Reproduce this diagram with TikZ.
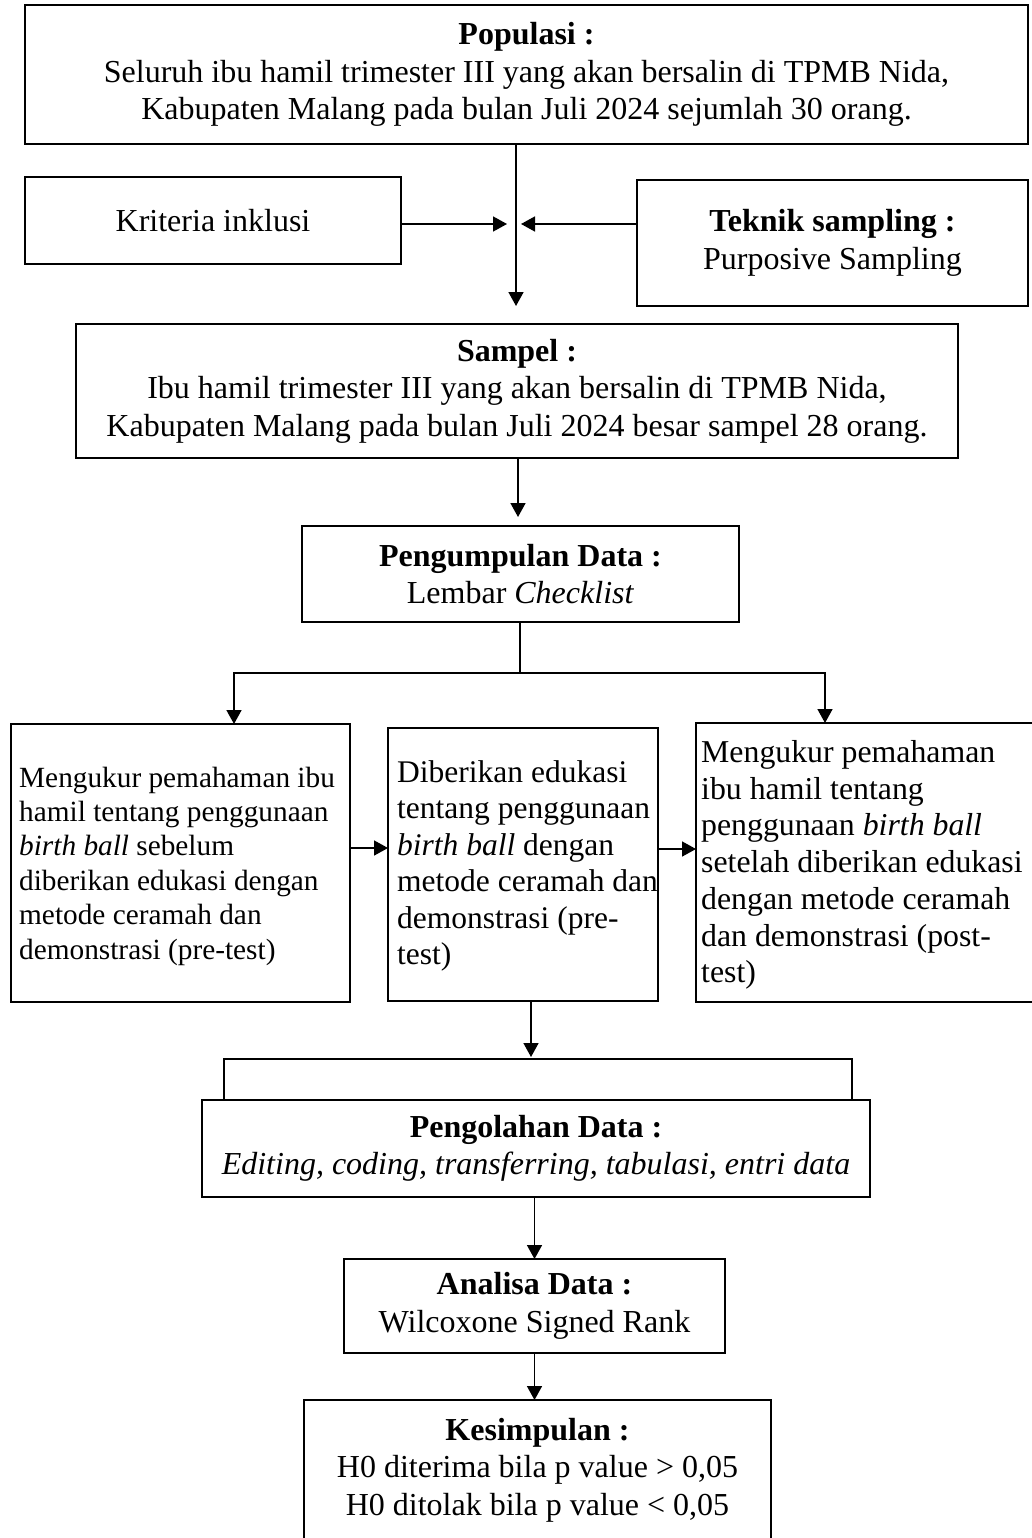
\documentclass[tikz,border=0pt]{standalone}
\usepackage{fontspec}
\setmainfont{Liberation Serif}
\usetikzlibrary{arrows.meta}
\begin{document}
\begin{tikzpicture}[x=1pt,y=-1pt,
  box/.style={draw, line width=2.6pt, rectangle, inner sep=0pt, outer sep=0pt,
    align=center, font=\fontsize{32}{37.5}\selectfont},
  conn/.style={line width=1.6pt},
  arr/.style={conn, -{Triangle[length=14pt,width=15pt]}},
  lefttxt/.style={inner sep=0pt, anchor=west, align=left}
]
\useasboundingbox (0,0) rectangle (1031,1538);

% boxes
\node[box, minimum width=1003, minimum height=139] (pop) at (526.5,74.5)
  {\textbf{Populasi :}\\Seluruh ibu hamil trimester III yang akan bersalin di TPMB Nida,\\Kabupaten Malang pada bulan Juli 2024 sejumlah 30 orang.};
\node[box, minimum width=376, minimum height=87] (krit) at (213,220.5) {Kriteria inklusi};
\node[box, minimum width=391, minimum height=126] (tek) at (832.5,243)
  {\textbf{Teknik sampling :}\\Purposive Sampling};
\node[box, minimum width=882, minimum height=134] (samp) at (517,391)
  {\textbf{Sampel :}\\Ibu hamil trimester III yang akan bersalin di TPMB Nida,\\Kabupaten Malang pada bulan Juli 2024 besar sampel 28 orang.};
\node[box, minimum width=437, minimum height=96] (peng) at (520.5,574)
  {\textbf{Pengumpulan Data :}\\Lembar \textit{Checklist}};

\node[box, minimum width=339, minimum height=278] (lbox) at (180.5,863) {};
\node[box, minimum width=270, minimum height=273] (mbox) at (523,864.5) {};
\node[box, minimum width=339, minimum height=279] (rbox) at (865.5,862.5) {};

\node[lefttxt, font=\fontsize{29.3}{34.4}\selectfont] (ltxt) at (19,866)
  {Mengukur pemahaman ibu\\hamil tentang penggunaan\\\textit{birth ball} sebelum\\diberikan edukasi dengan\\metode ceramah dan\\demonstrasi (pre-test)};
\node[lefttxt, font=\fontsize{31.5}{36.4}\selectfont] (mtxt) at (397,866)
  {Diberikan edukasi\\tentang penggunaan\\\textit{birth ball} dengan\\metode ceramah dan\\demonstrasi (pre-\\test)};
\node[lefttxt, font=\fontsize{31.8}{36.7}\selectfont] (rtxt) at (701,865)
  {Mengukur pemahaman\\ibu hamil tentang\\penggunaan \textit{birth ball}\\setelah diberikan edukasi\\dengan metode ceramah\\dan demonstrasi (post-\\test)};

\node[box, minimum width=668, minimum height=97] (olah) at (536,1148.5)
  {\textbf{Pengolahan Data :}\\\textit{Editing, coding, transferring, tabulasi, entri data}};
\node[box, minimum width=381, minimum height=94] (anal) at (534.5,1306)
  {\textbf{Analisa Data :}\\Wilcoxone Signed Rank};
\node[box, minimum width=467, minimum height=140] (kes) at (537.5,1470)
  {\textbf{Kesimpulan :}\\H0 diterima bila p value > 0,05\\H0 ditolak bila p value < 0,05};

% coordinates for free ends
\coordinate (c1) at (516,306);
\coordinate (c2) at (507,224);
\coordinate (c3) at (521,224);
\coordinate (c4) at (518,517);
\coordinate (b0) at (520,673);
\coordinate (bl) at (234,673);
\coordinate (br) at (825,673);
\coordinate (h1) at (0,848);
\coordinate (h2) at (0,849);
\coordinate (c5) at (531,1057);
\coordinate (kl) at (224,1059);
\coordinate (kr) at (852,1059);

% connectors
\draw[arr] (pop.south -| c1) -- (c1);
\draw[arr] (krit.east |- c2) -- (c2);
\draw[arr] (tek.west |- c3) -- (c3);
\draw[arr] (samp.south -| c4) -- (c4);
\draw[conn] (peng.south -| b0) -- (b0);
\draw[arr] (b0) -- (bl) -- (lbox.north -| bl);
\draw[arr] (b0) -- (br) -- (rbox.north -| br);
\draw[arr] (lbox.east |- h1) -- (mbox.west |- h1);
\draw[arr] (mbox.east |- h2) -- (rbox.west |- h2);
\draw[arr] (mbox.south -| c5) -- (c5);
\draw[conn] (olah.north -| kl) -- (kl) -- (kr) -- (olah.north -| kr);
\draw[arr] (anal.north |- olah.south) -- (anal.north);
\draw[arr] (anal.south) -- (kes.north -| anal.south);
\end{tikzpicture}
\end{document}
